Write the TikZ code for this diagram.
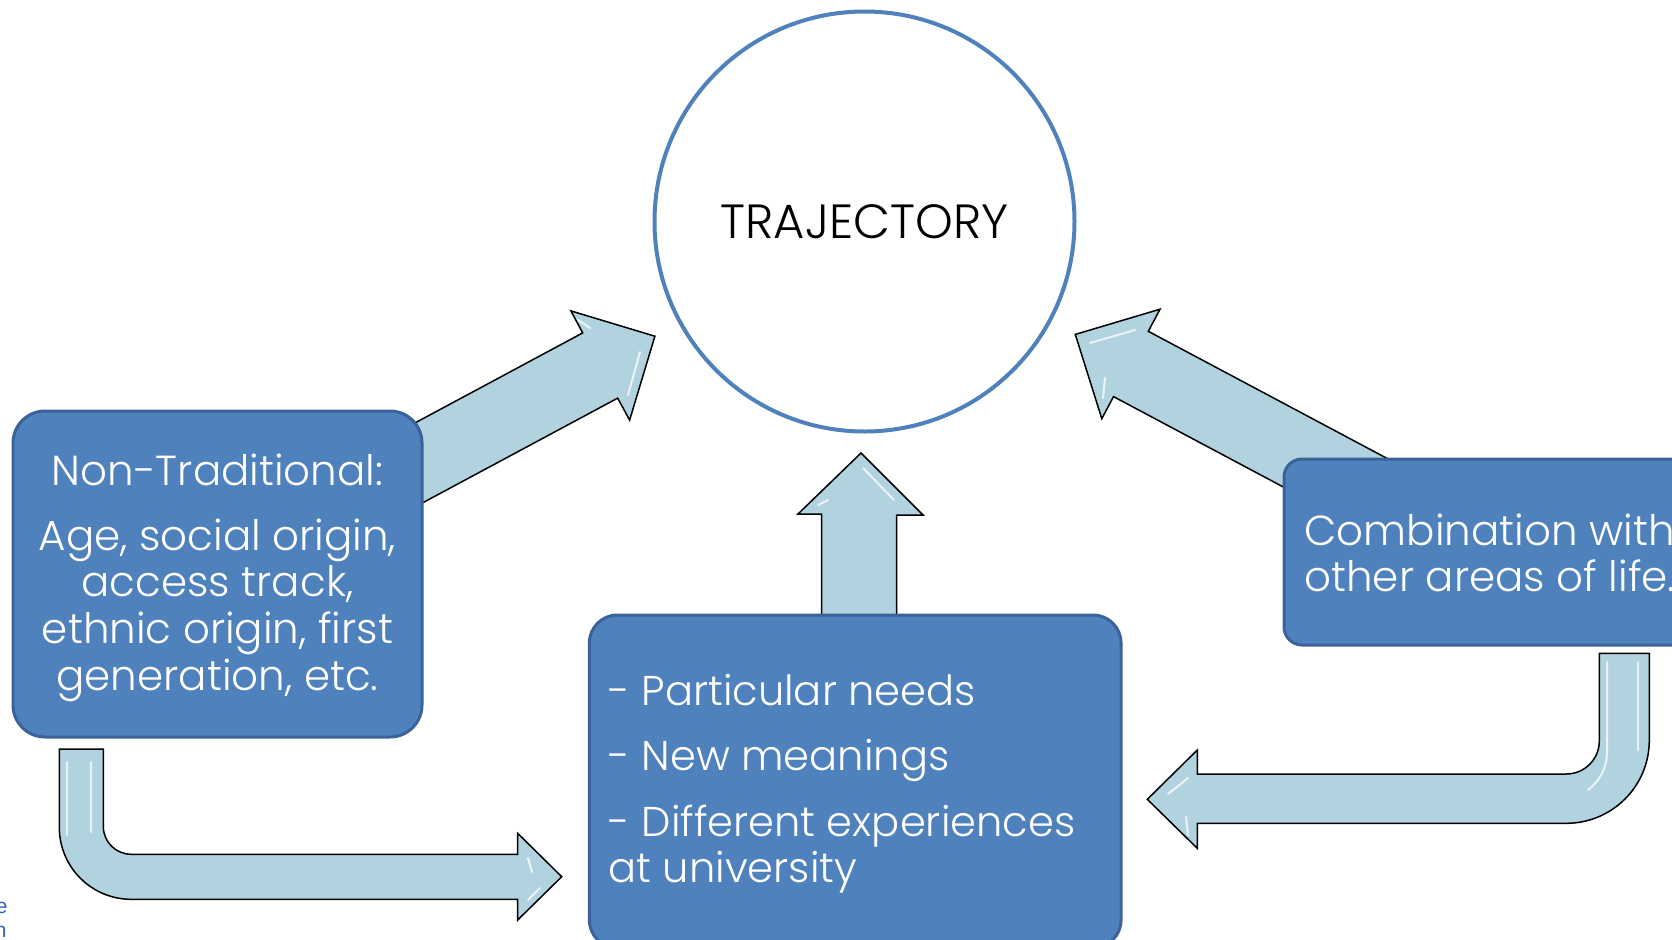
\documentclass[tikz,border=0pt]{standalone}
\usepackage{fontspec}
\setmainfont{Poppins Light}
\newfontfamily\fragfont{Liberation Sans}
\definecolor{boxblue}{HTML}{4F81BD}
\definecolor{boxedge}{HTML}{3B6399}
\definecolor{arrowfill}{HTML}{B1D3DF}
\definecolor{fragblue}{HTML}{3565B0}
\newcommand\centerlines[2]{\vtop{\baselineskip=#1\halign{\hfil##\hfil\cr#2\crcr}}}
\newcommand\leftlines[2]{\vtop{\baselineskip=#1\halign{##\hfil\cr#2\crcr}}}
\tikzset{
  bluebox/.style={draw=boxedge, fill=boxblue, line width=1.5pt, inner sep=0pt},
  blockarrow/.style={draw=black, fill=arrowfill, line width=0.75pt, line join=miter},
  gloss/.style={draw=white, line width=1pt, opacity=0.75, line cap=round},
  boxtext/.style={text=white, inner sep=0pt},
}
\begin{document}
\begin{tikzpicture}[x=0.5pt, y=-0.5pt]
\useasboundingbox (0,0) rectangle (1672,939);
\fill[white] (0,0) rectangle (1672,939);

% block arrows (drawn first, boxes cover their tails)
\draw[blockarrow] (374.8,444.5) -- (582.7,332.9) -- (570.9,310.9) -- (654.9,336.2)
  -- (629.6,420.1) -- (617.7,398.1) -- (409.8,509.7) -- cycle;
\draw[gloss] (578,320) -- (590,328);
\draw[gloss] (640,352) -- (628,395);
\draw[blockarrow] (1440.6,486.9) -- (1148.3,331.3) -- (1160,309.2) -- (1075.3,334.4)
  -- (1101.8,418.7) -- (1113.5,396.6) -- (1405.8,552.2) -- cycle;
\draw[gloss] (1090,343) -- (1135,330);
\draw[gloss] (1105,378) -- (1103,398);
\draw[blockarrow] (821.5,640) -- (821.5,514) -- (798,514) -- (861,453) -- (923,515)
  -- (896.5,515) -- (896.5,640) -- cycle;
\draw[gloss] (863,468) -- (894,500);
\draw[gloss] (818,505) -- (828,500);
\draw[blockarrow] (59.3,749) -- (103.3,749) -- (103.3,826.3)
  .. controls (103.3,841.8) and (115.8,854.3) .. (131.3,854.3) -- (517.7,854.3)
  -- (517.7,833.3) -- (561.7,876.7) -- (517.7,920) -- (517.7,899.3) -- (131.3,899.3)
  .. controls (91.5,899.3) and (59.3,867.1) .. (59.3,827.3) -- cycle;
\draw[gloss] (67,762) -- (67,835);
\draw[gloss] (91,762) -- (91,832);
\draw[gloss] (528,858) -- (532,872);
\draw[gloss] (528,900) -- (540,888);
\draw[blockarrow] (1599.3,653.3) -- (1649.3,653.3) -- (1649.3,740.3)
  .. controls (1649.3,786.1) and (1612.1,823.3) .. (1566.3,823.3) -- (1197.3,823.3)
  -- (1197.3,848.3) -- (1147.3,799.3) -- (1197.3,750) -- (1197.3,774) -- (1566.3,774)
  .. controls (1584.5,774) and (1599.3,759.2) .. (1599.3,741) -- cycle;
\draw[gloss] (1607,662) -- (1607,752) .. controls (1607,770) and (1598,782) .. (1588,790);
\draw[gloss] (1638,662) -- (1638,750);
\draw[gloss] (1168,794) -- (1188,778);
\draw[gloss] (1186,817) -- (1188,835);

% boxes
\node[bluebox, rounded corners=16pt, minimum width=204.5pt, minimum height=163pt] (lbox) at (217.5,574) {};
\node[bluebox, rounded corners=14pt, minimum width=265.85pt, minimum height=166.5pt] (mbox) at (855.2,781.5) {};
\node[bluebox, rounded corners=9pt, minimum width=203pt, minimum height=93pt] (rbox) at (1487,552) {};

% circle
\node[circle, draw=boxblue, fill=white, line width=2pt, minimum size=210pt, inner sep=0pt,
      font=\fontsize{24}{29}\selectfont] (traj) at (864.5,221.5) {TRAJECTORY};

% texts
\node[boxtext, anchor=base, font=\fontsize{21}{23.35}\selectfont] (ltext) at (217.5,485)
  {\centerlines{23.35pt}{Non-Traditional:\cr\noalign{\vskip 9.15pt}Age, social origin,\cr access track,\cr ethnic origin, first\cr generation, etc.}};
\node[boxtext, anchor=base west, font=\fontsize{20.8}{22.85}\selectfont] (mtext) at (608.3,705)
  {\leftlines{22.85pt}{- Particular needs\cr\noalign{\vskip 10pt}- New meanings\cr\noalign{\vskip 10pt}- Different experiences\cr at university}};
\node[boxtext, anchor=base west, font=\fontsize{21}{23}\selectfont] (rtext) at (1304,545)
  {\leftlines{23pt}{Combination with\cr other areas of life.}};

% cut-off fragments at the left edge
\node[text=fragblue, anchor=base east, inner sep=0pt, font=\fragfont\fontsize{10.5}{12}\selectfont] (frage) at (8,913) {e};
\node[text=fragblue, anchor=base east, inner sep=0pt, font=\fragfont\fontsize{10.5}{12}\selectfont] (fragn) at (7,937) {n};
\end{tikzpicture}
\end{document}
